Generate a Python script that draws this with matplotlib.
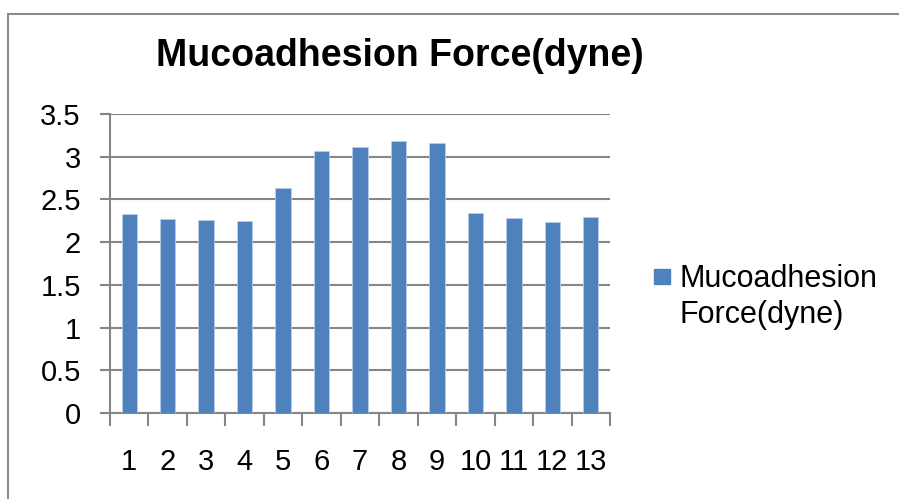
import matplotlib.pyplot as plt
from matplotlib.patches import Rectangle
from matplotlib.lines import Line2D

samples = list(range(1, 14))
force = [2.33, 2.27, 2.26, 2.25, 2.63, 3.07, 3.11, 3.18, 3.16, 2.34, 2.28, 2.23, 2.29]
series_name = "Mucoadhesion\nForce(dyne)"
title = "Mucoadhesion Force(dyne)"

plt.rcParams['font.family'] = ['Liberation Sans', 'DejaVu Sans']

W, H = 899, 499
fig = plt.figure(figsize=(W / 100, H / 100), dpi=100)

# outer chart border (left and top visible)
fig.add_artist(Line2D([8 / W, 8 / W], [0, 1 - 14 / H], color='#8c8c8c', lw=1.5,
                      transform=fig.transFigure))
fig.add_artist(Line2D([8 / W, 1], [1 - 14 / H, 1 - 14 / H], color='#8c8c8c', lw=1.5,
                      transform=fig.transFigure))

ax = fig.add_axes([110 / W, 1 - 413 / H, 500 / W, 299 / H])
bars = ax.bar(samples, force, width=0.4, color='#4F81BD', edgecolor='#b9cde5',
              linewidth=0.6, zorder=3)

ax.set_xlim(0.5, 13.5)
ax.set_ylim(0, 3.5)
ax.set_yticks([0, 0.5, 1, 1.5, 2, 2.5, 3, 3.5])
ax.set_yticklabels(['0', '0.5', '1', '1.5', '2', '2.5', '3', '3.5'])
ax.set_xticks(samples)
ax.set_xticklabels([str(s) for s in samples])
ax.set_xticks([s + 0.5 for s in range(0, 14)], minor=True)

ax.grid(axis='y', color='#868686', lw=1.5, zorder=0)
for s in ['top', 'right']:
    ax.spines[s].set_visible(False)
for s in ['left', 'bottom']:
    ax.spines[s].set_color('#868686')
    ax.spines[s].set_linewidth(1.5)

ax.tick_params(axis='y', length=7, width=1.5, color='#868686', pad=14, labelsize=21)
ax.tick_params(axis='x', which='major', length=0, pad=25, labelsize=21)
ax.tick_params(axis='x', which='minor', length=9, width=1.5, color='#868686')

fig.text(400 / W, 1 - 56 / H, title, fontsize=27, fontweight='bold',
         ha='center', va='center')

# legend
fig.add_artist(Rectangle((654 / W, 1 - 284 / H), 16 / W, 15 / H, color='#4F81BD',
                         transform=fig.transFigure))
fig.text(679 / W, 1 - 297 / H, series_name, fontsize=22, ha='left', va='center',
         linespacing=1.3)

fig.savefig('out.png', dpi=100)
